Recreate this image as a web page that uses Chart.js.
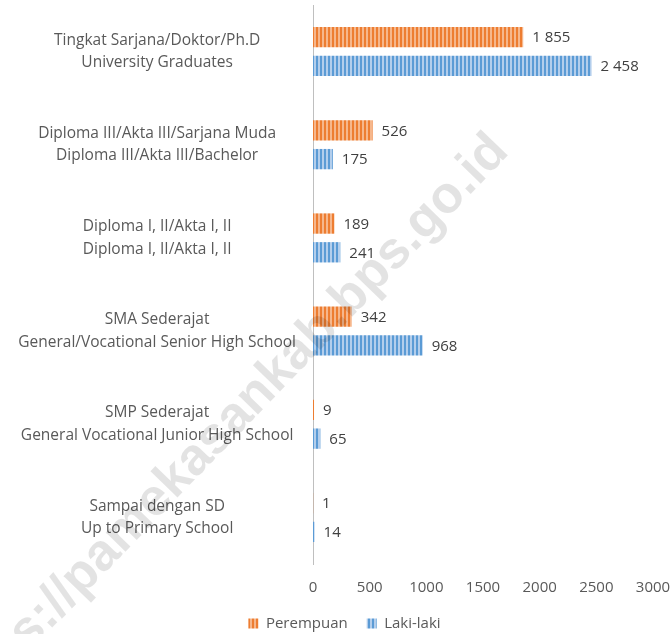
<!DOCTYPE html>
<html><head><meta charset="utf-8">
<script src="https://cdn.jsdelivr.net/npm/chart.js@4/dist/chart.umd.min.js"></script>
<style>html,body{margin:0;padding:0;background:#fff;}</style>
</head><body>
<canvas id="c" width="672" height="634"></canvas>
<script>
const categories = [
  ["Tingkat Sarjana/Doktor/Ph.D", "University Graduates"],
  ["Diploma III/Akta III/Sarjana Muda", "Diploma III/Akta III/Bachelor"],
  ["Diploma I, II/Akta I, II", "Diploma I, II/Akta I, II"],
  ["SMA Sederajat", "General/Vocational Senior High School"],
  ["SMP Sederajat", "General Vocational Junior High School"],
  ["Sampai dengan SD", "Up to Primary School"]
];
const perempuan = [1855, 526, 189, 342, 9, 1];
const lakiLaki = [2458, 175, 241, 968, 65, 14];
const seriesNames = ["Perempuan", "Laki-laki"];
const xTicks = [0, 500, 1000, 1500, 2000, 2500, 3000];
const watermarkText = "https://pamekasankab.bps.go.id";

const FONT = '"Open Sans"';
function stripe(fg, bg) {
  const c = document.createElement('canvas');
  c.width = 4; c.height = 4;
  const x = c.getContext('2d');
  x.fillStyle = bg; x.fillRect(0, 0, 4, 4);
  x.fillStyle = fg; x.fillRect(0, 0, 2, 4);
  return x.createPattern(c, 'repeat');
}
const orangePat = stripe('#ED7D31', '#F6B78C');
const bluePat = stripe('#5B9BD5', '#B3CEEC');

function fmt(v) { return String(v).replace(/\B(?=(\d{3})+(?!\d))/g, ' '); }

const labelsPlugin = {
  id: 'vals',
  afterDatasetsDraw(chart) {
    const ctx = chart.ctx;
    ctx.save();
    ctx.font = '15px ' + FONT;
    ctx.fillStyle = '#404040';
    ctx.textAlign = 'left';
    ctx.textBaseline = 'middle';
    chart.data.datasets.forEach((ds, i) => {
      const meta = chart.getDatasetMeta(i);
      meta.data.forEach((bar, j) => {
        ctx.fillText(fmt(ds.data[j]), bar.x + 9, bar.y + 1);
      });
    });
    ctx.restore();
  }
};
const legendShift = {
  id: 'legendShift',
  afterLayout(chart) {
    const lg = chart.legend;
    if (lg) { lg.left += 18; lg.right += 18; lg.top -= 15; lg.bottom -= 15; }
  }
};
const watermarkPlugin = {
  id: 'wm',
  afterDraw(chart) {
    const ctx = chart.ctx;
    ctx.save();
    ctx.translate(500, 143);
    ctx.rotate(-46 * Math.PI / 180);
    ctx.font = 'bold 52px "Liberation Sans"';
    ctx.fillStyle = 'rgba(0,0,0,0.11)';
    ctx.textAlign = 'right';
    ctx.textBaseline = 'middle';
    ctx.fillText(watermarkText, 0, 0);
    ctx.restore();
  }
};

new Chart(document.getElementById('c'), {
  type: 'bar',
  data: {
    labels: categories,
    datasets: [
      { label: seriesNames[0], data: perempuan, backgroundColor: orangePat, borderWidth: 0,
        categoryPercentage: 0.617, barPercentage: 0.707 },
      { label: seriesNames[1], data: lakiLaki, backgroundColor: bluePat, borderWidth: 0,
        categoryPercentage: 0.617, barPercentage: 0.707 }
    ]
  },
  options: {
    indexAxis: 'y',
    responsive: false,
    animation: false,
    devicePixelRatio: 1,
    layout: { padding: { left: 0, right: 19, top: 5, bottom: -22 } },
    scales: {
      x: {
        min: 0, max: 3000,
        afterBuildTicks(s) { s.ticks = xTicks.map(v => ({ value: v })); },
        ticks: { color: '#595959', font: { family: 'Open Sans', size: 15 }, padding: 15, maxRotation: 0,
                 callback: (v) => String(v) },
        grid: { display: false, drawTicks: false },
        border: { display: false },
        afterFit(s) { s.paddingLeft = 0; s.paddingRight = 0; }
      },
      y: {
        grid: { display: false, drawTicks: false },
        border: { display: true, color: '#BFBFBF', width: 1 },
        ticks: { crossAlign: 'center', padding: 17, color: '#595959',
                 font: { family: 'Open Sans', size: 15.5, lineHeight: 1.45 } },
        afterFit(s) { s.width = 313; s.paddingTop = 0; s.paddingBottom = 0; }
      }
    },
    plugins: {
      legend: {
        position: 'bottom',
        labels: { boxWidth: 10, boxHeight: 10, color: '#595959',
                  font: { family: 'Open Sans', size: 15 }, padding: 19 }
      },
      tooltip: { enabled: false }
    }
  },
  plugins: [labelsPlugin, legendShift, watermarkPlugin]
});
</script>
</body></html>
